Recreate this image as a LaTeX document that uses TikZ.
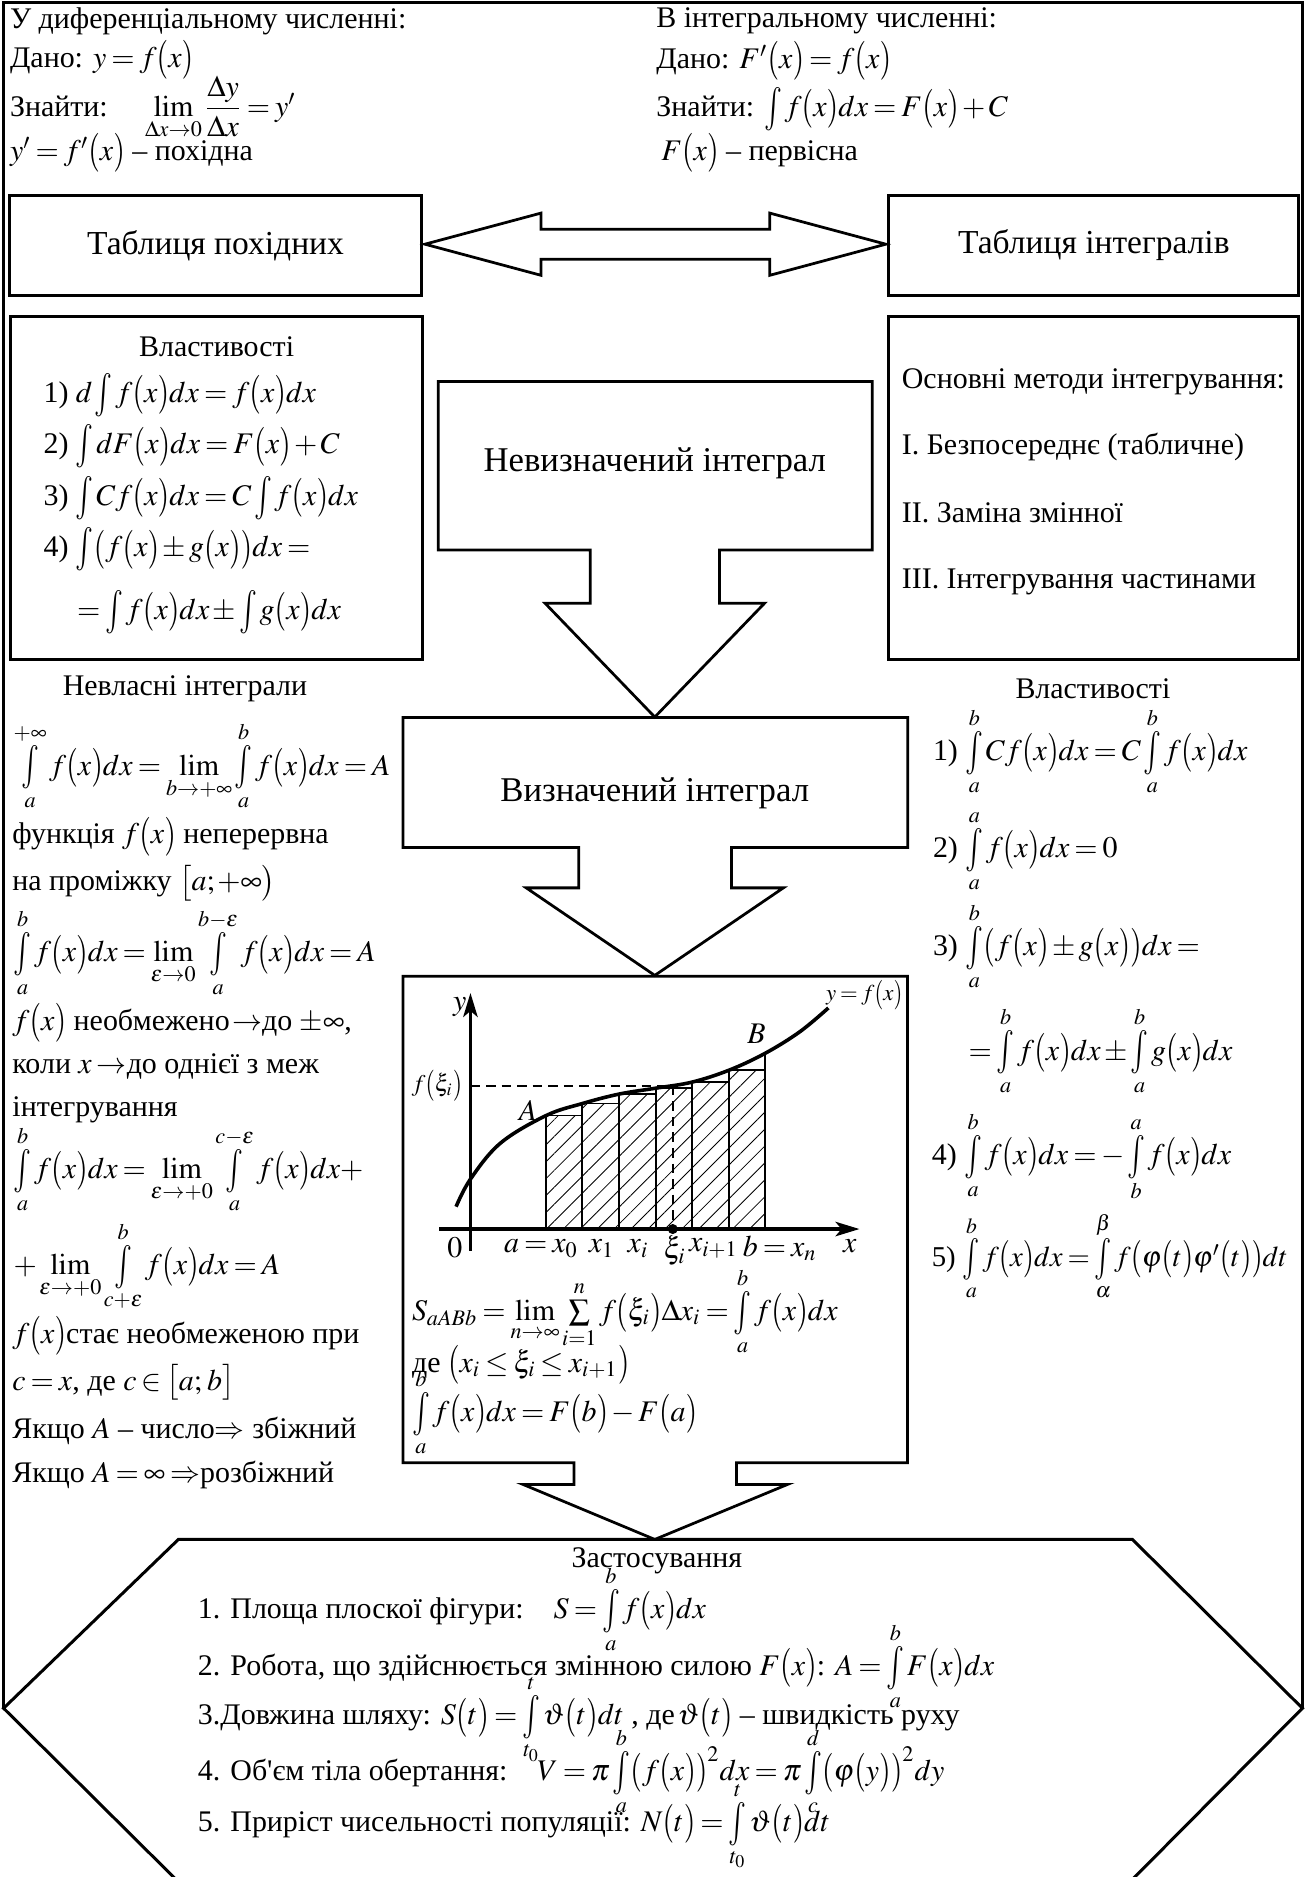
\documentclass[tikz,border=0pt]{standalone}
\usepackage{mathptmx}
\usepackage[no-math]{fontspec}
\setmainfont{Liberation Serif}
\newfontfamily\serifuk{Liberation Serif}
\usepackage{graphicx}
\usetikzlibrary{patterns.meta,arrows.meta,calc}
\newcommand{\lp}{\mathopen{\vcenter{\hbox{\scalebox{1}[1.3]{$($}}}}}
\newcommand{\rp}{\mathclose{\vcenter{\hbox{\scalebox{1}[1.3]{$)$}}}}}
\newcommand{\pb}[1]{\lp #1\rp}
\newcommand{\Int}{\mathop{\vcenter{\hbox{\scalebox{1}[1.45]{$\int$}}}}\nolimits}
\newcommand{\Intl}[2]{\mathop{\vcenter{\hbox{\scalebox{1}[1.45]{$\int$}}}}\limits_{#1}^{#2}}
\newcommand{\tightmath}{\thinmuskip=1.5mu\medmuskip=2mu plus 1mu\thickmuskip=3mu plus 2mu}
\begin{document}
\begin{tikzpicture}[x=0.5pt,y=-0.5pt,
  line join=miter,
  every node/.style={inner sep=0pt, font=\serifuk\fontsize{12.5}{15}\selectfont\tightmath},
  txt/.style={anchor=west},
  box/.style={draw, line width=1.25pt, inner sep=0pt},
  shapeline/.style={draw, line width=1.15pt},
  big/.style={font=\serifuk\fontsize{14.5}{17}\selectfont},
  tbl/.style={font=\serifuk\fontsize{14}{17}\selectfont},
  small/.style={font=\serifuk\fontsize{10}{12}\selectfont\tightmath},
  tiny/.style={font=\serifuk\fontsize{9.5}{11}\selectfont\tightmath},
  narrow/.style={font=\serifuk\fontsize{12}{15}\selectfont\tightmath},
  axis/.style={line width=1.5pt, -{Stealth[length=10pt,width=6pt,inset=2.5pt]}},
  curve/.style={line width=1.5pt},
  bar/.style={draw, line width=0.6pt, pattern={Lines[angle=45,distance=5pt,line width=0.35pt]}},
]
\useasboundingbox (0,0) rectangle (1094,1568);

% outer frame
\draw[line width=1.25pt] (3,1427) -- (3,2) -- (1088,2) -- (1088,1427);

% top texts
\node[txt] (d1) at (8,18) {У диференціальному численні:};
\node[txt] (d2) at (8,50) {Дано: $y=f\pb{x}$};
\node[txt] (d3) at (8,90) {Знайти:\quad\ $\lim\limits_{\Delta x\to0}{\displaystyle\frac{\Delta y}{\Delta x}}=y'$};
\node[txt] (d4) at (8,128) {$y'=f'\pb{x}$ – похідна};

\node[txt] (i1) at (548,17) {В інтегральному численні:};
\node[txt] (i2) at (548,51) {Дано: $F'\pb{x}=f\pb{x}$};
\node[txt] (i3) at (548,91) {Знайти: $\Int f\pb{x}dx=F\pb{x}+C$};
\node[txt] (i4) at (552,128) {$F\pb{x}$ – первісна};

% tables
\node[box, tbl, minimum width=172pt, minimum height=42pt] (tp) at (180,205) {Таблиця похідних};
\node[box, tbl, minimum width=171.2pt, minimum height=42pt] (ti) at (913.8,205) {Таблиця інтегралів};
\coordinate (la) at (355,204);
\coordinate (ra) at (740,204);
\draw[shapeline] (la) -- ++(97,-26) -- ++(0,13.5) -- ++(191,0) -- ++(0,-13.5) -- (ra)
  -- ++(-97,26) -- ++(0,-13.5) -- ++(-191,0) -- ++(0,13.5) -- cycle;

% left properties box
\node[box, minimum width=172.3pt, minimum height=143.25pt] (vl) at (180.7,407.8) {};
\node (vlt) at (181,289.5) {Властивості};
\node[txt] (p1) at (36,330) {1) $d\Int f\pb{x}dx=f\pb{x}dx$};
\node[txt] (p2) at (36,373) {2) $\Int dF\pb{x}dx=F\pb{x}+C$};
\node[txt] (p3) at (36,416) {3) $\Int Cf\pb{x}dx=C\Int f\pb{x}dx$};
\node[txt] (p4) at (36,459) {4) $\Int\lp f\pb{x}\pm g\pb{x}\rp dx=$};
\node[txt] (p5) at (64,511) {$=\Int f\pb{x}dx\pm\Int g\pb{x}dx$};

% methods box
\node[box, minimum width=171pt, minimum height=143.25pt] (mi) at (913.5,407.8) {};
\node[txt] (m0) at (753,318.7) {Основні методи інтегрування:};
\node[txt] (m1) at (753,373) {I. Безпосереднє (табличне)};
\node[txt] (m2) at (753,428.6) {II. Заміна змінної};
\node[txt] (m3) at (753,485.8) {III. Інтегрування частинами};

% indefinite integral block arrow
\draw[shapeline] (366,318.7) -- (728.6,318.7) -- (728.6,459.4) -- (601,459.4) -- (601,503.9)
  -- (638.7,503.9) -- (547,599) -- (455.3,503.9) -- (493,503.9) -- (493,459.4) -- (366,459.4) -- cycle;
\node[big] (ni) at (547,387) {Невизначений інтеграл};

% definite integral block arrow
\draw[shapeline] (336.6,599.4) -- (758.2,599.4) -- (758.2,708) -- (611,708) -- (611,741.7)
  -- (654.4,741.7) -- (547,814.8) -- (439.6,741.7) -- (483.5,741.7) -- (483.5,708) -- (336.6,708) -- cycle;
\node[big] (vi) at (547,663) {Визначений інтеграл};

% graph box with arrow to applications
\draw[shapeline] (336.6,815.6) -- (758,815.6) -- (758,1222) -- (615.2,1222) -- (615.2,1240)
  -- (658,1240) -- (547,1286) -- (436.8,1240) -- (479.4,1240) -- (479.4,1222) -- (336.6,1222) -- cycle;

% bars
\draw[bar] (456,1026.7) rectangle (486,932);
\draw[bar] (486,1026.7) rectangle (517,922);
\draw[bar] (517,1026.7) rectangle (548,914);
\draw[bar] (548,1026.7) rectangle (578,909);
\draw[bar] (578,1026.7) rectangle (609,904);
\draw[bar] (609,1026.7) rectangle (639,894);
\draw[line width=0.6pt] (639,1026.7) -- (639,880);
% curve
\draw[curve] plot[smooth, tension=0.6] coordinates {(381,1008) (393,985) (418,955) (456,932) (486,922) (517,914) (548,909) (578,904) (609,894) (639,880) (668,862) (692,842)};
% axes
\draw[axis] (393,1045) -- (393,829.5);
\draw[axis] (367,1026.7) -- (718,1026.7);
\draw[line width=0.8pt, dash pattern=on 4pt off 2.5pt] (393,907) -- (562,907) -- (562,1026.7);
\fill (562,1026.7) circle (2.1pt);

\node (ly) at (384,841) {$y$};
\node (l0) at (380,1042) {$0$};
\node (lx) at (710,1041) {$x$};
\node[small] (lf) at (365,907) {$f\pb{\xi_i}$};
\node (lA) at (441,928) {$A$};
\node (lB) at (632,864) {$B$};
\node[tiny] (lyf) at (722,831) {$y=f\pb{x}$};
\node (a0) at (452,1043) {$a=x_0$};
\node (a1) at (502.5,1043) {$x_1$};
\node (a2) at (533,1043) {$x_i$};
\node (a3) at (563.7,1045) {$\xi_i$};
\node (a4) at (596,1043) {$x_{i+1}$};
\node (a5) at (651.4,1043) {$b=x_n$};

\node[txt] (s1) at (343.8,1095.4) {$S_{aABb}=\lim\limits_{n\to\infty}\sum\limits_{i=1}^{n}f\pb{\xi_i}\Delta x_i=\Intl{a}{b} f\pb{x}dx$};
\node[txt] (s2) at (343.8,1140) {де $\lp x_i\le\xi_i\le x_{i+1}\rp$};
\node[txt] (s3) at (343.8,1180) {$\Intl{a}{b} f\pb{x}dx=F\pb{b}-F\pb{a}$};

% improper integrals
\node (nvt) at (154.5,575) {Невласні інтеграли};
\node[txt] (n1) at (11,640) {$\Intl{a}{+\infty} f\pb{x}dx=\lim\limits_{b\to+\infty}\Intl{a}{b} f\pb{x}dx=A$};
\node[txt] (n2) at (10,698.7) {функція $f\pb{x}$ неперервна};
\node[txt] (n3) at (10,737.7) {на проміжку $\bigl[a;+\infty\bigr)$};
\node[txt] (n4) at (11,796) {$\Intl{a}{b} f\pb{x}dx=\lim\limits_{\varepsilon\to0}\Intl{a}{b-\varepsilon} f\pb{x}dx=A$};
\node[txt] (n5) at (10,854.6) {$f\pb{x}$ необмежено$\,\to$до $\pm\infty$,};
\node[txt] (n6) at (10,890.8) {коли $x\to$до однієї з меж};
\node[txt] (n7) at (10,927) {інтегрування};
\node[txt] (n8) at (11,977) {$\Intl{a}{b} f\pb{x}dx=\lim\limits_{\varepsilon\to+0}\Intl{a}{c-\varepsilon} f\pb{x}dx+$};
\node[txt] (n9) at (11,1057.8) {$+\lim\limits_{\varepsilon\to+0}\Intl{c+\varepsilon}{b} f\pb{x}dx=A$};
\node[txt] (n10) at (10,1116) {$f\pb{x}$стає необмеженою при};
\node[txt] (n11) at (10,1155) {$c=x$, де $c\in\bigl[a;\,b\bigr]$};
\node[txt] (n12) at (10,1195.6) {Якщо $A$ – число$\Rightarrow$ збіжний};
\node[txt] (n13) at (10,1231.8) {Якщо $A=\infty\Rightarrow$розбіжний};

% right properties
\node (vrt) at (913,575) {Властивості};
\node[txt] (r1) at (779,627.7) {1) $\Intl{a}{b} Cf\pb{x}dx=C\Intl{a}{b} f\pb{x}dx$};
\node[txt] (r2) at (779,711) {2) $\Intl{a}{a} f\pb{x}dx=0$};
\node[txt] (r3) at (779,790.6) {3) $\Intl{a}{b}\lp f\pb{x}\pm g\pb{x}\rp dx=$};
\node[txt] (r4) at (808.7,878) {$=\Intl{a}{b} f\pb{x}dx\pm\Intl{a}{b} g\pb{x}dx$};
\node[txt] (r5) at (778,966) {4) $\Intl{a}{b} f\pb{x}dx=-\Intl{b}{a} f\pb{x}dx$};
\node[txt, narrow] (r6) at (778,1049.5) {5) $\Intl{a}{b} f\pb{x}dx=\Intl{\alpha}{\beta} f\lp\varphi\pb{t}\varphi'\pb{t}\rp dt$};

% applications hexagon
\draw[line width=1.25pt] (147,1570) -- (3,1427) -- (149,1286) -- (946,1286) -- (1088,1427) -- (946,1570);
\node (zt) at (548.7,1304) {Застосування};
\node[txt] (z1) at (165,1344.6) {1. Площа плоскої фігури:\quad $S=\Intl{a}{b} f\pb{x}dx$};
\node[txt] (z2) at (165,1392) {2. Робота, що здійснюється змінною силою $F\pb{x}$: $A=\Intl{a}{b} F\pb{x}dx$};
\node[txt] (z3) at (165,1436.5) {3.Довжина шляху: $S\pb{t}=\Intl{t_0}{t}\vartheta\pb{t}dt$ , де$\,\vartheta\pb{t}$ – швидкість руху};
\node[txt] (z4) at (165,1479.6) {4. Об'єм тіла обертання:\quad $V=\pi\Intl{a}{b}\lp f\pb{x}\rp^2dx=\pi\Intl{c}{d}\lp\varphi\pb{y}\rp^2dy$};
\node[txt] (z5) at (165,1525.5) {5. Приріст чисельності популяції: $N\pb{t}=\Intl{t_0}{t}\vartheta\pb{t}dt$};
\end{tikzpicture}
\end{document}
